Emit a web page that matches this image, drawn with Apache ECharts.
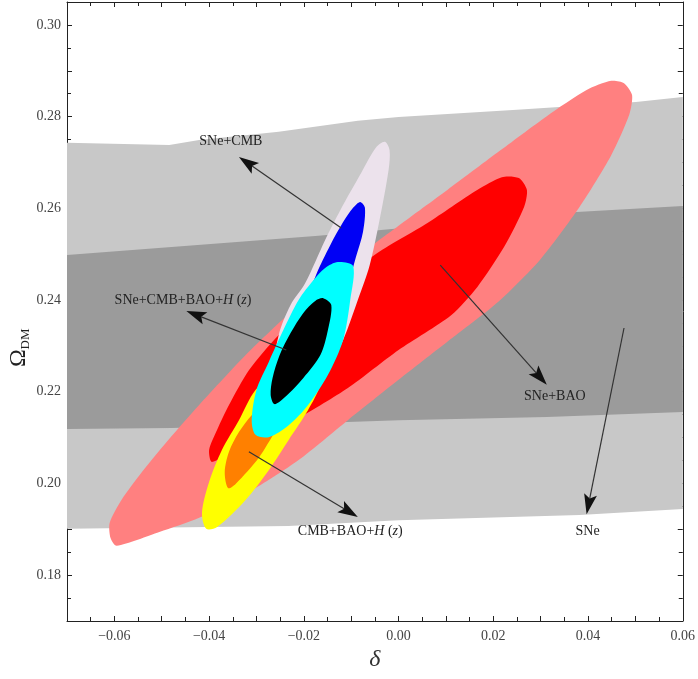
<!DOCTYPE html>
<html><head><meta charset="utf-8">
<script src="https://cdn.jsdelivr.net/npm/echarts@6/dist/echarts.min.js"></script>
<style>html,body{margin:0;padding:0;background:#fff}#c{width:698px;height:679px}</style>
</head><body><div id="c"></div>
<script>
// ---------- axis ranges & tick labels ----------
const xRange = [-0.07, 0.06];
const yRange = [0.17, 0.305];
const xLabelVals = [-0.06, -0.04, -0.02, 0, 0.02, 0.04, 0.06];
const xLabelText = ['\u22120.06', '\u22120.04', '\u22120.02', '0.00', '0.02', '0.04', '0.06'];
const yLabelVals = [0.18, 0.20, 0.22, 0.24, 0.26, 0.28, 0.30];
const yLabelText = ['0.18', '0.20', '0.22', '0.24', '0.26', '0.28', '0.30'];

// ---------- SNe bands (edges, [delta, Omega_DM]) ----------
const snesOuterTop = [[-0.07,0.2743],[-0.0484,0.2738],[-0.0421,0.2749],[-0.0253,0.2767],[-0.0086,0.2791],[0.0,0.2799],[0.025,0.2815],[0.0501,0.2832],[0.06,0.2843]];
const snesOuterBottom = [[-0.07,0.1901],[-0.0232,0.1907],[0.0,0.1920],[0.0382,0.1931],[0.06,0.1944]];
const snesInnerTop = [[-0.07,0.2498],[-0.0169,0.2540],[0.0376,0.2592],[0.06,0.2605]];
const snesInnerBottom = [[-0.07,0.2119],[-0.0478,0.2121],[0.0,0.2138],[0.0313,0.2145],[0.06,0.2156]];

// ---------- SNe+BAO contours ----------
const snebaoOuter = [[-0.0595,0.1864],[-0.0505,0.1894],[-0.0421,0.1925],[-0.0316,0.1981],[-0.0211,0.2051],[-0.0107,0.2138],[0.0,0.2226],[0.0103,0.2309],[0.0208,0.2394],[0.0298,0.2487],[0.0382,0.2603],[0.0449,0.2716],[0.0487,0.2804],[0.0493,0.2847],[0.0476,0.2873],[0.0449,0.2878],[0.0397,0.2858],[0.0313,0.2801],[0.0208,0.2721],[0.0103,0.2640],[0.0,0.2562],[-0.0107,0.2479],[-0.0211,0.2389],[-0.0316,0.2287],[-0.0421,0.2171],[-0.0495,0.2084],[-0.0547,0.2018],[-0.0585,0.1964],[-0.0610,0.1914],[-0.0608,0.1881]];
const snebaoInner = [[-0.0394,0.2047],[-0.0348,0.2073],[-0.0211,0.2143],[-0.0107,0.2208],[0.0,0.2291],[0.0111,0.2367],[0.0166,0.2428],[0.0223,0.2516],[0.0265,0.2603],[0.0271,0.2640],[0.0254,0.2666],[0.0218,0.2668],[0.0166,0.2640],[0.0061,0.2568],[-0.0044,0.2503],[-0.0149,0.2422],[-0.0253,0.2324],[-0.0316,0.2247],[-0.0358,0.2171],[-0.0383,0.2117],[-0.0400,0.2073]];

// ---------- SNe+CMB contours ----------
const snecmbOuter = [[-0.0029,0.2745],[-0.0019,0.2727],[-0.0021,0.2684],[-0.0040,0.2575],[-0.0061,0.2476],[-0.0086,0.2400],[-0.0117,0.2313],[-0.0170,0.2204],[-0.0232,0.2138],[-0.0274,0.2138],[-0.0277,0.2182],[-0.0253,0.2324],[-0.0228,0.2389],[-0.0197,0.2437],[-0.0155,0.2531],[-0.0123,0.2596],[-0.0079,0.2677],[-0.0048,0.2732]];
const snecmbInner = [[-0.0081,0.2614],[-0.0071,0.2601],[-0.0075,0.2549],[-0.0090,0.2494],[-0.0107,0.2435],[-0.0138,0.2378],[-0.0174,0.2357],[-0.0191,0.2400],[-0.0174,0.2455],[-0.0144,0.2520],[-0.0117,0.2570],[-0.0096,0.2601]];

// ---------- CMB+BAO+H(z) contours ----------
const cbhOuter = [[-0.0406,0.1901],[-0.0383,0.1905],[-0.0323,0.1964],[-0.0274,0.2029],[-0.0232,0.2095],[-0.0191,0.2160],[-0.0165,0.2215],[-0.0159,0.2269],[-0.0180,0.2313],[-0.0232,0.2269],[-0.0302,0.2204],[-0.0337,0.2138],[-0.0373,0.2073],[-0.0400,0.2003],[-0.0415,0.1936]];
const cbhInner = [[-0.0360,0.1990],[-0.0344,0.1999],[-0.0295,0.2056],[-0.0258,0.2117],[-0.0228,0.2160],[-0.0222,0.2193],[-0.0274,0.2182],[-0.0310,0.2149],[-0.0337,0.2112],[-0.0358,0.2069],[-0.0367,0.2025]];

// ---------- SNe+CMB+BAO+H(z) contours ----------
const allOuter = [[-0.0128,0.2483],[-0.0096,0.2474],[-0.0102,0.2400],[-0.0117,0.2313],[-0.0149,0.2237],[-0.0191,0.2171],[-0.0232,0.2127],[-0.0274,0.2101],[-0.0302,0.2106],[-0.0310,0.2138],[-0.0300,0.2204],[-0.0274,0.2265],[-0.0243,0.2335],[-0.0211,0.2400],[-0.0179,0.2444],[-0.0155,0.2470]];
const allInner = [[-0.0159,0.2404],[-0.0142,0.2389],[-0.0149,0.2335],[-0.0165,0.2280],[-0.0201,0.2230],[-0.0239,0.2189],[-0.0262,0.2173],[-0.0270,0.2193],[-0.0266,0.2230],[-0.0251,0.2280],[-0.0228,0.2328],[-0.0201,0.2372],[-0.0176,0.2398]];

// ---------- annotations ----------
const labelTexts = ['SNe+CMB', 'SNe+CMB+BAO+{i|H} ({i|z})', 'CMB+BAO+{i|H} ({i|z})', 'SNe+BAO', 'SNe'];
const labelPos = [[-0.0354,0.2747],[-0.0455,0.2400],[-0.0102,0.1896],[0.0330,0.2189],[0.0399,0.1896]];
const arrowFrom = [[-0.0121,0.2557],[-0.0237,0.2291],[-0.0316,0.2069],[0.0088,0.2476],[0.0476,0.2339]];
const arrowTo = [[-0.0337,0.2712],[-0.0448,0.2376],[-0.0086,0.1927],[0.0313,0.2215],[0.0397,0.1933]];

// ---------- styling (kept apart from data) ----------
const layers = [
  {pts: snesOuterTop.concat(snesOuterBottom.slice().reverse()), color: '#c8c8c8', smooth: 0},
  {pts: snesInnerTop.concat(snesInnerBottom.slice().reverse()), color: '#9b9b9b', smooth: 0},
  {pts: snebaoOuter, color: '#ff8080', smooth: 0.25},
  {pts: snebaoInner, color: '#ff0000', smooth: 0.25},
  {pts: snecmbOuter, color: '#ece2ec', smooth: 0.3},
  {pts: snecmbInner, color: '#0000f5', smooth: 0.3},
  {pts: cbhOuter, color: '#ffff00', smooth: 0.3},
  {pts: cbhInner, color: '#ff8000', smooth: 0.3},
  {pts: allOuter, color: '#00ffff', smooth: 0.3},
  {pts: allInner, color: '#000000', smooth: 0.3}
];

const serif = '"Liberation Serif","DejaVu Serif",serif';
const axisColor = '#222';

function fmt(vals, texts) {
  return function (v) {
    const i = vals.findIndex(t => Math.abs(t - v) < 1e-7);
    return i < 0 ? '' : texts[i];
  };
}

function makeX(pos, showLabel) {
  return {
    type: 'value', position: pos, min: xRange[0], max: xRange[1], interval: 0.01,
    axisLine: {onZero: false, lineStyle: {color: axisColor, width: 1}},
    axisTick: {inside: true, length: 5, lineStyle: {color: axisColor}},
    minorTick: {show: true, splitNumber: 2, length: 4, lineStyle: {color: axisColor}},
    splitLine: {show: false}, minorSplitLine: {show: false},
    axisLabel: {show: showLabel, formatter: fmt(xLabelVals, xLabelText), fontFamily: serif, fontSize: 14, color: '#444', margin: 8, showMinLabel: true, showMaxLabel: true},
    name: showLabel ? '\u03B4' : '', nameLocation: 'middle', nameGap: 26,
    nameTextStyle: {fontFamily: serif, fontStyle: 'italic', fontSize: 24, color: '#333'}
  };
}
function makeY(pos, showLabel) {
  return {
    type: 'value', position: pos, min: yRange[0], max: yRange[1], interval: 0.01,
    axisLine: {onZero: false, lineStyle: {color: axisColor, width: 1}},
    axisTick: {inside: true, length: 5, lineStyle: {color: axisColor}},
    minorTick: {show: true, splitNumber: 2, length: 4, lineStyle: {color: axisColor}},
    splitLine: {show: false}, minorSplitLine: {show: false},
    axisLabel: {show: showLabel, formatter: fmt(yLabelVals, yLabelText), fontFamily: serif, fontSize: 14, color: '#444', margin: 6}
  };
}

const chart = echarts.init(document.getElementById('c'), null, {renderer: 'canvas'});
chart.setOption({
  animation: false,
  backgroundColor: '#fff',
  grid: {left: 67, right: 11, top: 2, bottom: 58},
  xAxis: [makeX('bottom', true), makeX('top', false)],
  yAxis: [makeY('left', true), makeY('right', false)],
  graphic: [
    {type: 'text', x: 19, y: 358, rotation: Math.PI / 2, style: {text: '\u03A9', font: '24px ' + serif, fill: '#222', align: 'center', verticalAlign: 'middle'}},
    {type: 'text', x: 26, y: 339, rotation: Math.PI / 2, style: {text: 'DM', font: '13px ' + serif, fill: '#222', align: 'center', verticalAlign: 'middle'}}
  ],
  series: [
    {
      type: 'custom', clip: true, xAxisIndex: 0, yAxisIndex: 0, silent: true,
      data: layers.map((L, i) => [L.pts[0][0], L.pts[0][1], i]),
      renderItem: function (params, api) {
        const L = layers[api.value(2)];
        return {type: 'polygon', shape: {points: L.pts.map(p => api.coord(p)), smooth: L.smooth}, style: {fill: L.color}};
      }
    },
    {
      type: 'custom', xAxisIndex: 0, yAxisIndex: 0, silent: true,
      data: arrowFrom.map((p, i) => [p[0], p[1], i]),
      renderItem: function (params, api) {
        const i = api.value(2);
        const p1 = api.coord(arrowFrom[i]), p2 = api.coord(arrowTo[i]);
        const dx = p2[0] - p1[0], dy = p2[1] - p1[1];
        const len = Math.hypot(dx, dy), ux = dx / len, uy = dy / len;
        const hl = 20, hw = 6.5;
        const bx = p2[0] - ux * hl, by = p2[1] - uy * hl;
        return {type: 'group', children: [
          {type: 'line', shape: {x1: p1[0], y1: p1[1], x2: bx + ux * 4, y2: by + uy * 4}, style: {stroke: '#333', lineWidth: 1.2}},
          {type: 'polygon', shape: {points: [[p2[0], p2[1]], [bx - uy * hw, by + ux * hw], [bx + ux * 4, by + uy * 4], [bx + uy * hw, by - ux * hw]]}, style: {fill: '#111'}}
        ]};
      }
    },
    {
      type: 'custom', xAxisIndex: 0, yAxisIndex: 0, silent: true,
      data: labelPos.map((p, i) => [p[0], p[1], i]),
      renderItem: function (params, api) {
        const i = api.value(2);
        const p = api.coord(labelPos[i]);
        return {type: 'text', x: p[0], y: p[1], style: {
          text: labelTexts[i], fill: '#222', fontFamily: serif, fontSize: 14,
          align: 'center', verticalAlign: 'middle',
          rich: {i: {fontFamily: serif, fontSize: 14, fontStyle: 'italic', fill: '#222'}}
        }};
      }
    }
  ]
});
</script>
</body></html>
